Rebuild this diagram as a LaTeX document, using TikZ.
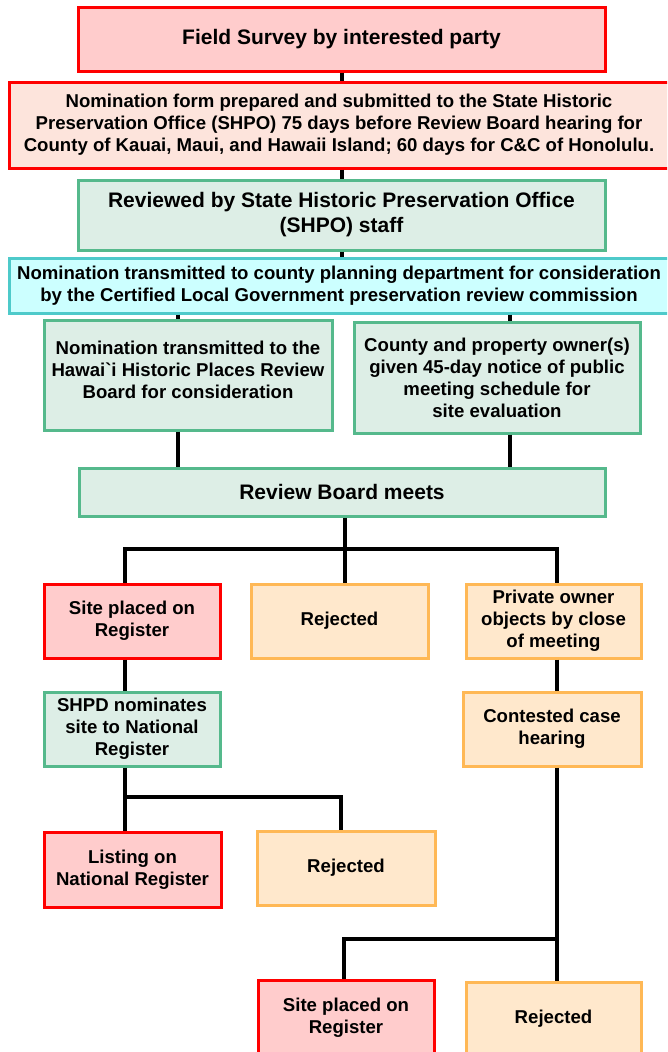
\documentclass[tikz,border=0pt]{standalone}
\usepackage{fontspec}
\setmainfont{Liberation Sans}
\definecolor{redB}{HTML}{FF0000}
\definecolor{redF}{HTML}{FFCCCC}
\definecolor{pinkF}{HTML}{FDE4DC}
\definecolor{grnB}{HTML}{55B98C}
\definecolor{grnF}{HTML}{DDEEE6}
\definecolor{cyB}{HTML}{4ECACA}
\definecolor{cyF}{HTML}{CCFFFF}
\definecolor{orB}{HTML}{FFB855}
\definecolor{orF}{HTML}{FFE8CC}
\tikzset{
  box/.style={draw, line width=3pt, align=center, inner sep=2pt, font=\bfseries\fontsize{18.6}{22}\selectfont},
  bigtext/.style={font=\bfseries\fontsize{21}{25}\selectfont},
  redbox/.style={box, draw=redB, fill=redF},
  pinkbox/.style={box, draw=redB, fill=pinkF},
  grnbox/.style={box, draw=grnB, fill=grnF},
  cybox/.style={box, draw=cyB, fill=cyF},
  orbox/.style={box, draw=orB, fill=orF},
  conn/.style={draw=black, line width=4pt, line join=miter}
}
\newcommand\bx[7]{\node[#2, minimum width={(#5-#3)*1pt}, minimum height={(#6-#4)*1pt}] (#1) at ({(#3+#5)/2},{(#4+#6)/2}) {#7};}
\begin{document}
\begin{tikzpicture}[x=1pt,y=-1pt]
\useasboundingbox (0,0) rectangle (667,1052);
\clip (0,0) rectangle (667,1052);
\fill[white] (0,0) rectangle (667,1052);
% coordinates for connector columns
\coordinate (cmid) at (342,0);
\coordinate (cl) at (178,0);
\coordinate (cr) at (510,0);
\coordinate (rbx) at (345,0);
\coordinate (c1) at (125,0);
\coordinate (c3) at (557,0);
\coordinate (c2b) at (341,0);
\coordinate (c2c) at (344,0);
\coordinate (j1) at (0,549);
\coordinate (j2) at (0,797);
\coordinate (j3) at (0,939);
% boxes
\bx{fs}{redbox,bigtext}{78}{7}{605}{71}{Field Survey by interested party}
\bx{nf}{pinkbox}{9}{82}{669}{168}{Nomination form prepared and submitted to the State Historic\\Preservation Office (SHPO) 75 days before Review Board hearing for\\County of Kauai, Maui, and Hawaii Island; 60 days for C\&C of Honolulu.}
\bx{rv}{grnbox,bigtext}{78}{180}{605}{250}{Reviewed by State Historic Preservation Office\\(SHPO) staff}
\bx{cy}{cybox}{9}{258}{669}{313}{Nomination transmitted to county planning department for consideration\\by the Certified Local Government preservation review commission}
\bx{lg}{grnbox}{44}{320}{332}{430}{Nomination transmitted to the\\Hawai\textasciigrave i Historic Places Review\\Board for consideration\\[-12pt]}
\bx{rg}{grnbox}{354}{322}{640}{433}{County and property owner(s)\\given 45-day notice of public\\meeting schedule for\\site evaluation}
\bx{rb}{grnbox,bigtext}{79}{468}{605}{516}{Review Board meets}
\bx{s1}{redbox}{44}{584}{220}{658}{Site placed on\\Register}
\bx{rj1}{orbox}{251}{584}{428}{658}{Rejected}
\bx{po}{orbox}{466}{584}{641}{658}{Private owner\\objects by close\\of meeting}
\bx{sh}{grnbox}{44}{692}{220}{766}{SHPD nominates\\site to National\\Register}
\bx{cc}{orbox}{463}{692}{641}{766}{Contested case\\hearing}
\bx{ls}{redbox}{44}{832}{221}{907}{Listing on\\National Register}
\bx{rj2}{orbox}{257}{831}{435}{905}{Rejected}
\bx{s2}{redbox}{258}{980}{434}{1056}{Site placed on\\Register}
\bx{rj3}{orbox}{466}{982}{641}{1056}{Rejected}
% connectors
\draw[conn] (fs.south -| cmid) -- (nf.north -| cmid);
\draw[conn] (nf.south -| cmid) -- (rv.north -| cmid);
\draw[conn] (rv.south -| cmid) -- (cy.north -| cmid);
\draw[conn] (cy.south -| cl) -- (lg.north -| cl);
\draw[conn] (cy.south -| cr) -- (rg.north -| cr);
\draw[conn] (lg.south -| cl) -- (rb.north -| cl);
\draw[conn] (rg.south -| cr) -- (rb.north -| cr);
\draw[conn] (rb.south -| rbx) -- (rj1.north -| rbx);
\draw[conn] (s1.north -| c1) -- (c1 |- j1) -- (c3 |- j1) -- (po.north -| c3);
\draw[conn] (s1.south -| c1) -- (sh.north -| c1);
\draw[conn] (po.south -| c3) -- (cc.north -| c3);
\draw[conn] (sh.south -| c1) -- (ls.north -| c1);
\draw[conn] (c1 |- j2) -- (c2b |- j2) -- (rj2.north -| c2b);
\draw[conn] (cc.south -| c3) -- (rj3.north -| c3);
\draw[conn] (c3 |- j3) -- (c2c |- j3) -- (s2.north -| c2c);
\end{tikzpicture}
\end{document}
